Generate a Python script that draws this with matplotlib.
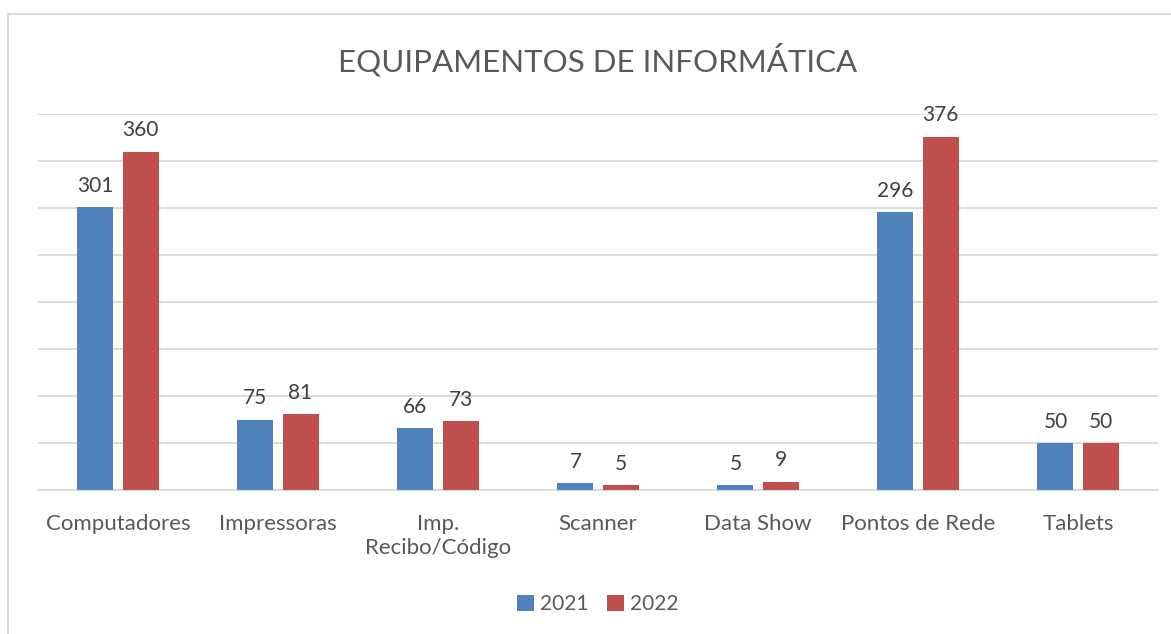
import matplotlib
matplotlib.use("Agg")
import matplotlib.pyplot as plt
import numpy as np
from matplotlib.patches import Rectangle

plt.rcParams['font.family'] = ['Lato', 'DejaVu Sans']

# 数据
categorias = ['Computadores', 'Impressoras', 'Imp.\nRecibo/Código', 'Scanner',
              'Data Show', 'Pontos de Rede', 'Tablets']
valores_2021 = [301, 75, 66, 7, 5, 296, 50]
valores_2022 = [360, 81, 73, 5, 9, 376, 50]
anos = ['2021', '2022']

AZUL = '#4F81BD'
VERMELHO = '#C0504D'
CINZA = '#595959'

fig = plt.figure(figsize=(11.71, 6.34), dpi=100)
ax = fig.add_axes([38 / 1171, 1 - 490 / 634, 1120 / 1171, 376 / 634])

# borda do gráfico
fig.patches.append(Rectangle((8 / 1171, -0.05), 1.1, 1 - 14 / 634 + 0.05,
                             transform=fig.transFigure, fill=False,
                             edgecolor='#d9d9d9', linewidth=1.5))

x = np.arange(len(categorias))
w = 0.225
off = 0.141
b1 = ax.bar(x - off, valores_2021, w, color=AZUL, label=anos[0], zorder=3)
b2 = ax.bar(x + off, valores_2022, w, color=VERMELHO, label=anos[1], zorder=3)

for bars in (b1, b2):
    ax.bar_label(bars, padding=8, fontsize=15, color='#404040')

ax.set_xlim(-0.5, len(categorias) - 0.5)
ax.set_ylim(0, 400)
ax.set_yticks(np.arange(0, 401, 50))
ax.yaxis.grid(True, color='#d9d9d9', linewidth=1.3, zorder=0)
ax.tick_params(axis='y', left=False, labelleft=False)
ax.set_xticks(x)
ax.set_xticklabels(categorias, fontsize=16, color=CINZA, linespacing=1.25)
ax.tick_params(axis='x', length=0, pad=17)
for s in ['top', 'right', 'left']:
    ax.spines[s].set_visible(False)
ax.spines['bottom'].set_color('#d9d9d9')
ax.spines['bottom'].set_linewidth(1.3)

fig.text(598 / 1171, 1 - 60 / 634, 'EQUIPAMENTOS DE INFORMÁTICA', ha='center',
         va='center', fontsize=22.5, color=CINZA)

fig.legend(handles=[b1, b2], labels=anos, loc='center',
           bbox_to_anchor=(598 / 1171, 1 - 604 / 634), ncol=2, frameon=False,
           fontsize=15, labelcolor=CINZA, handlelength=0.8, handleheight=0.8,
           handletextpad=0.3, columnspacing=0.9)

fig.savefig('out.png', dpi=100)
